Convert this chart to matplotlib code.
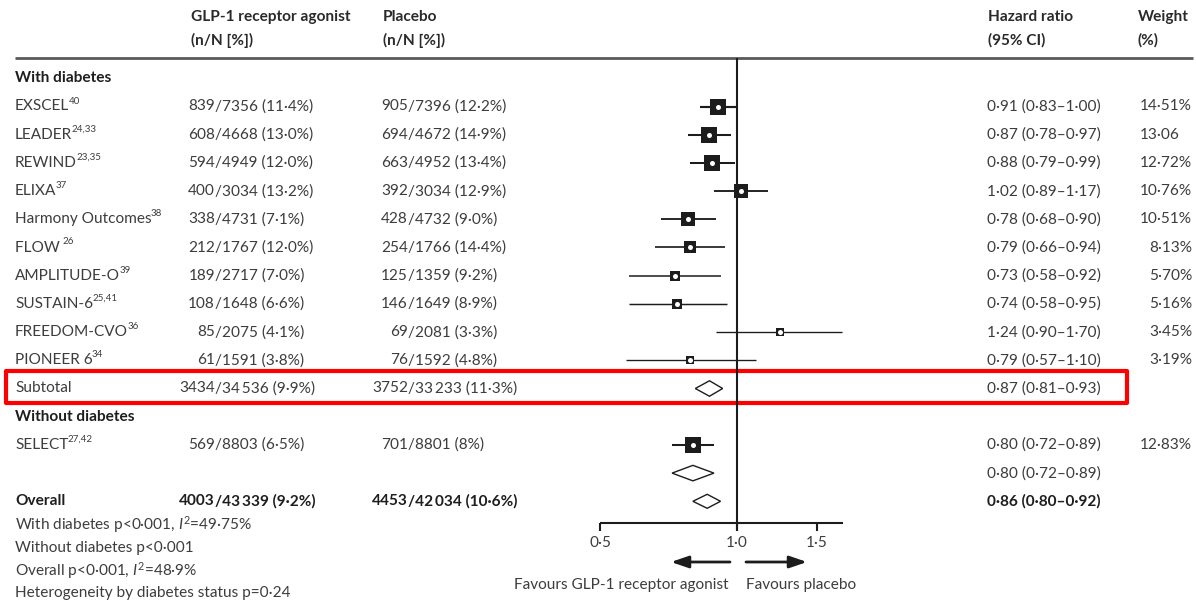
import matplotlib
matplotlib.use('Agg')
import matplotlib.pyplot as plt
import numpy as np
from matplotlib.patches import Polygon, Rectangle

FONT = ['Lato', 'DejaVu Sans']
plt.rcParams['font.family'] = FONT
plt.rcParams['mathtext.fontset'] = 'custom'
plt.rcParams['mathtext.rm'] = 'Lato'
plt.rcParams['mathtext.it'] = 'Lato:italic'

# ---------------- data ----------------
studies = ["EXSCEL", "LEADER", "REWIND", "ELIXA", "Harmony Outcomes", "FLOW ",
           "AMPLITUDE-O", "SUSTAIN-6", "FREEDOM-CVO", "PIONEER 6"]
refs = ["40", "24,33", "23,35", "37", "38", "26", "39", "25,41", "36", "34"]
glp_events = ["839/7356 (11·4%)", "608/4668 (13·0%)", "594/4949 (12·0%)", "400/3034 (13·2%)",
              "338/4731 (7·1%)", "212/1767 (12·0%)", "189/2717 (7·0%)", "108/1648 (6·6%)",
              "85/2075 (4·1%)", "61/1591 (3·8%)"]
pla_events = ["905/7396 (12·2%)", "694/4672 (14·9%)", "663/4952 (13·4%)", "392/3034 (12·9%)",
              "428/4732 (9·0%)", "254/1766 (14·4%)", "125/1359 (9·2%)", "146/1649 (8·9%)",
              "69/2081 (3·3%)", "76/1592 (4·8%)"]
hr = [0.91, 0.87, 0.88, 1.02, 0.78, 0.79, 0.73, 0.74, 1.24, 0.79]
hr_lo = [0.83, 0.78, 0.79, 0.89, 0.68, 0.66, 0.58, 0.58, 0.90, 0.57]
hr_hi = [1.00, 0.97, 0.99, 1.17, 0.90, 0.94, 0.92, 0.95, 1.70, 1.10]
weights = [14.51, 13.06, 12.72, 10.76, 10.51, 8.13, 5.70, 5.16, 3.45, 3.19]
weight_labels = ["14·51%", "13·06", "12·72%", "10·76%", "10·51%", "8·13%", "5·70%",
                 "5·16%", "3·45%", "3·19%"]

subtotal_glp = "3434/34\u2009536 (9·9%)"
subtotal_pla = "3752/33\u2009233 (11·3%)"
subtotal_hr = (0.87, 0.81, 0.93)

select_name, select_ref = "SELECT", "27,42"
select_glp = "569/8803 (6·5%)"
select_pla = "701/8801 (8%)"
select_hr = (0.80, 0.72, 0.89)
select_weight, select_weight_label = 12.83, "12·83%"
nodiab_summary_hr = (0.80, 0.72, 0.89)

overall_glp = "4003/43\u2009339 (9·2%)"
overall_pla = "4453/42\u2009034 (10·6%)"
overall_hr = (0.86, 0.80, 0.92)

axis_ticks = [0.5, 1.0, 1.5]
axis_tick_labels = ["0·5", "1·0", "1·5"]

footnotes = ["With diabetes p<0·001, $I^2$=49·75%",
             "Without diabetes p<0·001",
             "Overall p<0·001, $I^2$=48·9%",
             "Heterogeneity by diabetes status p=0·24"]


def fmt_hr(t):
    return f"{t[0]:.2f} ({t[1]:.2f}–{t[2]:.2f})".replace('.', '·')


# ---------------- layout ----------------
W, H = 1196, 605
fig = plt.figure(figsize=(W / 100, H / 100), dpi=100)
ROW0, STEP = 106.5, 28.2


def row_of_px(py):
    return (py - ROW0) / STEP


YLIM = (row_of_px(H), row_of_px(0))

tax = fig.add_axes([0, 0, 1, 1])
tax.set_xlim(0, W)
tax.set_ylim(*YLIM)
tax.axis('off')

PX_PER = 137 / np.log(2)
X1PX = 737


def hr_at_px(px):
    return float(np.exp((px - X1PX) / PX_PER))


FX0, FX1 = 560, 860
fax = fig.add_axes([FX0 / W, 0, (FX1 - FX0) / W, 1])
fax.set_xscale('log')
fax.set_xlim(hr_at_px(FX0), hr_at_px(FX1))
fax.set_ylim(*YLIM)
fax.axis('off')

FS = 11.1
SUP = 7.0
TXT = '#3d3d3d'
BOLD = '#1e1e1e'
NAME_X, GLP_SL, PLA_SL, HR_X, WT_R = 15, 215, 408, 987, 1192

renderer = fig.canvas.get_renderer()


def put(x, y, s, **kw):
    kw.setdefault('fontsize', FS)
    kw.setdefault('color', TXT)
    kw.setdefault('va', 'center')
    return tax.text(x, y, s, **kw)


def text_w(s):
    t = put(0, 0, s)
    w = t.get_window_extent(renderer).width
    t.remove()
    return w


def put_sup(x, y, name, ref):
    t = put(x, y, name)
    bb = t.get_window_extent(renderer)
    xr = tax.transData.inverted().transform((bb.x1, 0))[0]
    put(xr - 0.8, y - 5.5 / STEP, ref, fontsize=SUP)


def put_events(xslash, y, s, **kw):
    num, rest = s.split('/', 1)
    put(xslash, y, num, ha='right', **kw)
    put(xslash, y, '/' + rest, ha='left', **kw)


PCT_W = text_w("1%") - text_w("1")


def put_weight(y, s):
    if s.endswith('%'):
        put(WT_R, y, s, ha='right')
    else:
        put(WT_R - PCT_W, y, s, ha='right')


# header
hy1, hy2 = row_of_px(17), row_of_px(40)
for x, a, b in [(191, "GLP-1 receptor agonist", "(n/N [%])"), (383, "Placebo", "(n/N [%])"),
                (HR_X + 1, "Hazard ratio", "(95% CI)"), (1138, "Weight", "(%)")]:
    put(x, hy1, a, fontweight='bold', color='#2a2a2a')
    put(x, hy2, b, fontweight='bold', color='#2a2a2a')
tax.plot([15, 1193], [row_of_px(57.5)] * 2, color='#5a5a5a', lw=2.0, solid_capstyle='butt')

# section: with diabetes
put(NAME_X, -1, "With diabetes", fontweight='bold', color=BOLD)
for i in range(len(studies)):
    put_sup(NAME_X, i, studies[i], refs[i])
    put_events(GLP_SL, i, glp_events[i])
    put_events(PLA_SL, i, pla_events[i])
    put(HR_X, i, fmt_hr((hr[i], hr_lo[i], hr_hi[i])))
    put_weight(i, weight_labels[i])

r_sub = len(studies)
put(NAME_X, r_sub, "Subtotal")
put_events(GLP_SL, r_sub, subtotal_glp)
put_events(PLA_SL, r_sub, subtotal_pla)
put(HR_X, r_sub, fmt_hr(subtotal_hr))

r_nod = r_sub + 1
put(NAME_X, r_nod, "Without diabetes", fontweight='bold', color=BOLD)
r_sel = r_nod + 1
put_sup(NAME_X, r_sel, select_name, select_ref)
put_events(GLP_SL, r_sel, select_glp)
put_events(PLA_SL, r_sel, select_pla)
put(HR_X, r_sel, fmt_hr(select_hr))
put_weight(r_sel, select_weight_label)
r_nds = r_sel + 1
put(HR_X, r_nds, fmt_hr(nodiab_summary_hr))

r_ov = r_nds + 1
put(NAME_X, r_ov, "Overall", fontweight='bold', color=BOLD)
put_events(GLP_SL, r_ov, overall_glp, fontweight='bold', color=BOLD)
put_events(PLA_SL, r_ov, overall_pla, fontweight='bold', color=BOLD)
put(HR_X, r_ov, fmt_hr(overall_hr), fontweight='bold', color=BOLD)

for k, s in enumerate(footnotes):
    put(NAME_X, row_of_px(525 + 22.8 * k), s)

# red highlight box
y_top, y_bot = row_of_px(371.5), row_of_px(403.5)
tax.add_patch(Rectangle((5.5, y_top), 1121, y_bot - y_top, fill=False,
                        edgecolor='#ff0000', lw=3.0, joinstyle='round'))

# ---------------- forest ----------------
MK = '#1c1c1c'
axis_y = row_of_px(523)
tick_end = row_of_px(531)
fax.plot([1.0, 1.0], [row_of_px(57.5), tick_end], color=MK, lw=1.5, solid_capstyle='butt')


def side_px(w):
    return 4.45 * np.sqrt(w)


def study_mark(y, h, lo, hi, w):
    lw = 0.8 + 0.75 * w / 14.51
    fax.plot([lo, hi], [y, y], color=MK, lw=lw, solid_capstyle='butt', zorder=2)
    fax.plot([h], [y], marker='s', ms=side_px(w) * 0.72, color=MK, mew=0, zorder=3)
    fax.plot([h], [y], marker='o', ms=3.6, color='white', mew=0, zorder=4)


for i in range(len(studies)):
    study_mark(i, hr[i], hr_lo[i], hr_hi[i], weights[i])
study_mark(r_sel, select_hr[0], select_hr[1], select_hr[2], select_weight)

DH = 15.5 / STEP


def diamond(y, t, hh=DH):
    h, lo, hi = t
    fax.add_patch(Polygon([(lo, y), (h, y - hh / 2), (hi, y), (h, y + hh / 2)], closed=True,
                          facecolor='white', edgecolor=MK, lw=1.0, zorder=3))


diamond(r_sub, subtotal_hr)
diamond(r_nds, nodiab_summary_hr)
diamond(r_ov, overall_hr, 14 / STEP)

# x axis
fax.plot([axis_ticks[0], hr_at_px(843)], [axis_y, axis_y], color=MK, lw=1.5, solid_capstyle='butt')
for tv, tl in zip(axis_ticks, axis_tick_labels):
    fax.plot([tv, tv], [axis_y, tick_end], color=MK, lw=1.5, solid_capstyle='butt')
    fax.text(tv, row_of_px(543), tl, ha='center', va='center', fontsize=FS, color=TXT)

ay = row_of_px(562)
arrow = dict(arrowstyle='-|>,head_length=1.05,head_width=0.36', lw=2.0, color=MK,
             shrinkA=0, shrinkB=0)
fax.annotate('', xy=(hr_at_px(671), ay), xytext=(hr_at_px(730), ay), arrowprops=arrow)
fax.annotate('', xy=(hr_at_px(807), ay), xytext=(hr_at_px(746), ay), arrowprops=arrow)
fax.text(hr_at_px(729), row_of_px(585), "Favours GLP-1 receptor agonist", ha='right',
         va='center', fontsize=FS, color=TXT)
fax.text(hr_at_px(746), row_of_px(585), "Favours placebo", ha='left',
         va='center', fontsize=FS, color=TXT)

fig.savefig('out.png', dpi=100, facecolor='white')
